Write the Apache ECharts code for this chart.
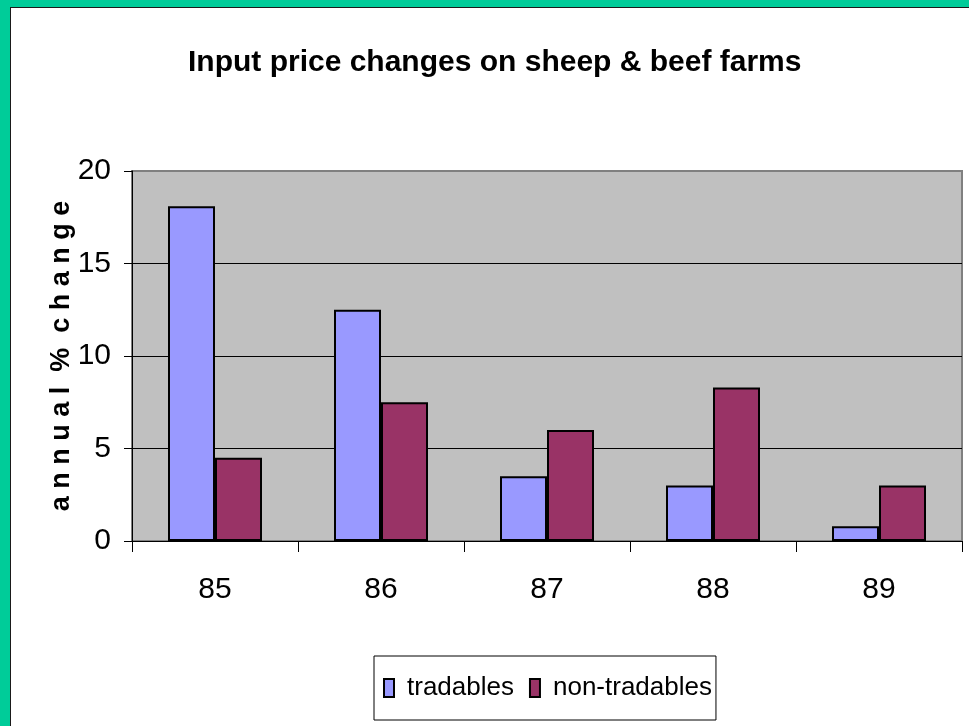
<!DOCTYPE html>
<html>
<head>
<meta charset="utf-8">
<script src="https://cdn.jsdelivr.net/npm/echarts@6/dist/echarts.min.js"></script>
<style>
  html, body { margin: 0; padding: 0; background: #fff; }
  .frame-top { position: absolute; left: 0; top: 0; width: 969px; height: 7px; background: #00cc99; }
  .frame-left { position: absolute; left: 0; top: 0; width: 10px; height: 726px; background: #00cc99; }
  .frame-line { position: absolute; left: 10px; top: 7px; width: 959px; height: 719px;
    border-left: 1px solid #1a1a1a; border-top: 1px solid #1a1a1a; box-sizing: border-box; }
  #chart { position: absolute; left: 0; top: 0; width: 969px; height: 726px; }
</style>
</head>
<body>
<div class="frame-top"></div>
<div class="frame-left"></div>
<div class="frame-line"></div>
<div id="chart"></div>
<script>
const years = ['85', '86', '87', '88', '89'];
const tradables = [18.1, 12.5, 3.5, 3.0, 0.8];
const nonTradables = [4.5, 7.5, 6.0, 8.3, 3.0];
const yTicks = [0, 5, 10, 15, 20];

const font = '"Liberation Sans", Arial, sans-serif';

const myChart = echarts.init(document.getElementById('chart'));

const option = {
  animation: false,
  title: {
    text: 'Input price changes on sheep & beef farms',
    left: 183,
    top: 43,
    textStyle: {
      fontFamily: font,
      fontWeight: 'bold',
      fontSize: 30,
      color: '#000'
    }
  },
  legend: {
    left: 374,
    top: 656,
    orient: 'horizontal',
    padding: [19, 4, 19, 9],
    itemGap: 15,
    itemWidth: 10,
    itemHeight: 18,
    borderColor: '#000',
    borderWidth: 1,
    backgroundColor: '#fff',
    icon: 'rect',
    textStyle: {
      fontFamily: font,
      fontSize: 26,
      color: '#000',
      padding: [0, 0, 0, 8]
    },
    data: ['tradables', 'non-tradables']
  },
  grid: {
    left: 132,
    right: 7,
    top: 171,
    bottom: 185,
    show: true,
    backgroundColor: '#c0c0c0',
    borderColor: '#808080',
    borderWidth: 2
  },
  xAxis: {
    type: 'category',
    data: years,
    axisLine: { show: true, lineStyle: { color: '#000', width: 1 } },
    axisTick: { show: true, length: 11, interval: 0, lineStyle: { color: '#000' } },
    axisLabel: {
      margin: 34,
      fontFamily: font,
      fontSize: 30,
      color: '#000'
    }
  },
  yAxis: {
    type: 'value',
    min: yTicks[0],
    max: yTicks[yTicks.length - 1],
    interval: 5,
    name: 'a n n u a l  %  c h a n g e',
    nameLocation: 'middle',
    nameGap: 57,
    nameMoveOverlap: false,
    nameTextStyle: {
      fontFamily: font,
      fontWeight: 'bold',
      fontSize: 27,
      color: '#000'
    },
    axisLine: { show: true, lineStyle: { color: '#000', width: 1 } },
    axisTick: { show: true, length: 8, lineStyle: { color: '#000' } },
    axisLabel: {
      margin: 21,
      fontFamily: font,
      fontSize: 30,
      color: '#000'
    },
    splitLine: {
      show: true,
      lineStyle: { color: ['#000', '#000', '#000', '#000', '#808080'], width: 1 }
    }
  },
  series: [
    {
      name: 'tradables',
      type: 'bar',
      barWidth: 47,
      barGap: '0%',
      itemStyle: { color: '#9999ff', borderColor: '#000', borderWidth: 2 },
      data: tradables
    },
    {
      name: 'non-tradables',
      type: 'bar',
      barWidth: 47,
      barGap: '0%',
      itemStyle: { color: '#993366', borderColor: '#000', borderWidth: 2 },
      data: nonTradables
    }
  ]
};

myChart.setOption(option);
</script>
</body>
</html>
